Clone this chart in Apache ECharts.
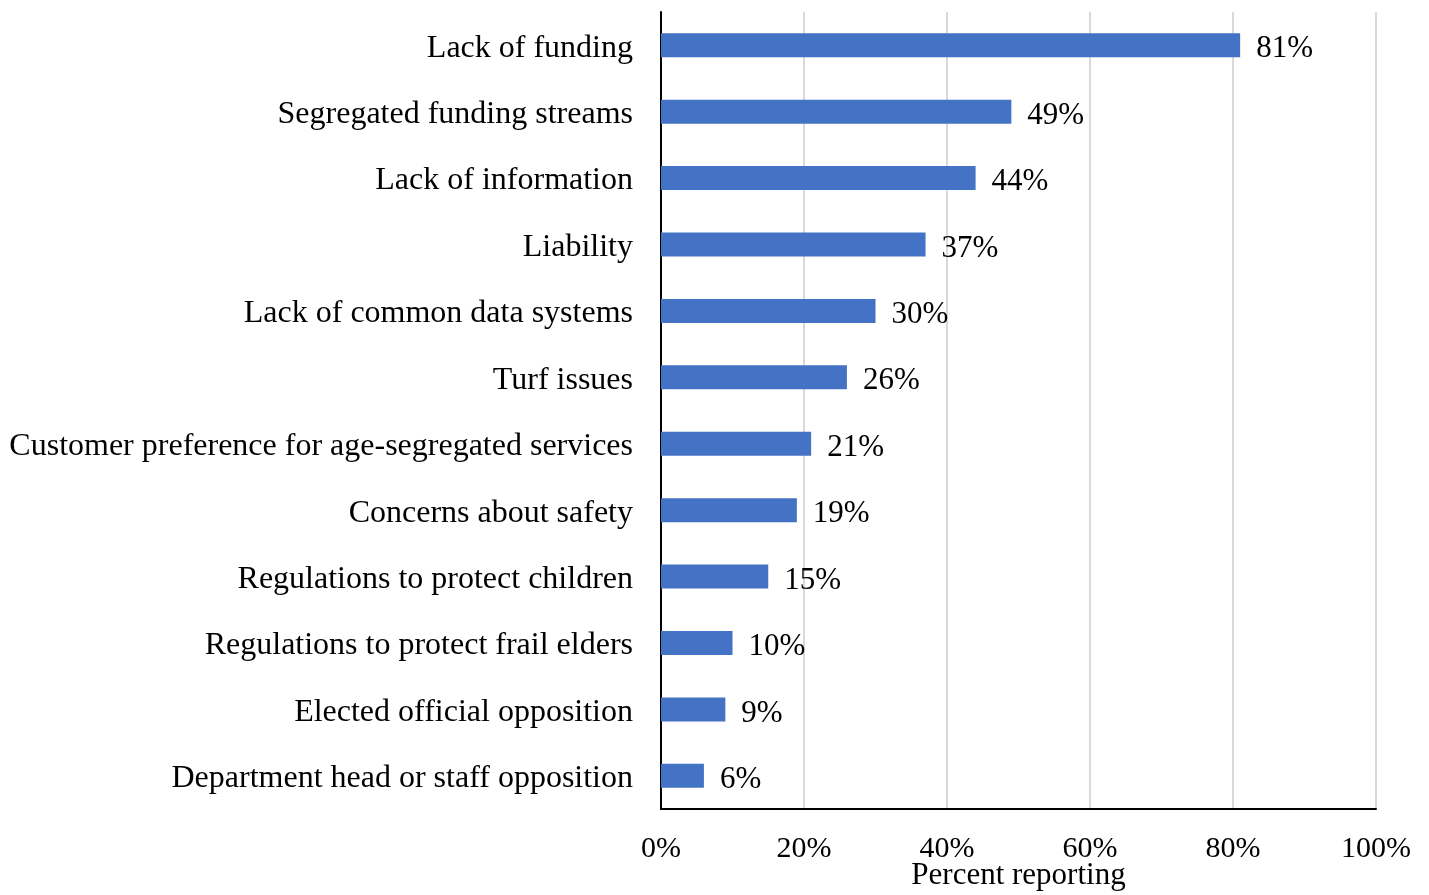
<!DOCTYPE html>
<html>
<head>
<meta charset="utf-8">
<script src="https://cdn.jsdelivr.net/npm/echarts@6/dist/echarts.min.js"></script>
<style>html,body{margin:0;padding:0;background:#fff;}#c{width:1429px;height:895px;}</style>
</head>
<body>
<div id="c"></div>
<script>
const categories = [
  "Lack of funding",
  "Segregated funding streams",
  "Lack of information",
  "Liability",
  "Lack of common data systems",
  "Turf issues",
  "Customer preference for age-segregated services",
  "Concerns about safety",
  "Regulations to protect children",
  "Regulations to protect frail elders",
  "Elected official opposition",
  "Department head or staff opposition"
];
const values = [81, 49, 44, 37, 30, 26, 21, 19, 15, 10, 9, 6];
const xTicks = [0, 20, 40, 60, 80, 100];

const font = "'Liberation Serif', 'Times New Roman', serif";
const chart = echarts.init(document.getElementById('c'), null, {renderer: 'canvas'});
chart.setOption({
  animation: false,
  backgroundColor: '#fff',
  grid: {left: 661, right: 53, top: 12, bottom: 86, containLabel: false, outerBoundsMode: 'none'},
  xAxis: {
    type: 'value', min: xTicks[0], max: xTicks[xTicks.length - 1], interval: 20,
    name: 'Percent reporting', nameLocation: 'middle', nameGap: 51, nameMoveOverlap: false,
    nameTextStyle: {fontFamily: font, fontSize: 31, color: '#000', lineHeight: 31},
    axisLine: {show: true, lineStyle: {color: '#000', width: 2}},
    axisTick: {show: false},
    axisLabel: {formatter: v => v + '%', fontFamily: font, fontSize: 30, color: '#000', margin: 25, lineHeight: 30},
    splitLine: {show: true, lineStyle: {color: '#d9d9d9', width: 2}}
  },
  yAxis: {
    type: 'category', data: categories, inverse: true,
    axisLine: {show: true, lineStyle: {color: '#000', width: 2}},
    axisTick: {show: false},
    axisLabel: {
      fontFamily: font, fontSize: 32, color: '#000', margin: 28,
      formatter: v => '{a|' + v + '}',
      rich: {a: {fontFamily: font, fontSize: 32, color: '#000', padding: [6, 0, 0, 0]}}
    },
    splitLine: {show: false}
  },
  series: [{
    type: 'bar', data: values, barWidth: 24,
    itemStyle: {color: '#4472C4'},
    label: {show: true, position: 'right', distance: 16, formatter: p => p.value + '%',
      fontFamily: font, fontSize: 31, color: '#000', offset: [0, 4]}
  }]
});
</script>
</body>
</html>
